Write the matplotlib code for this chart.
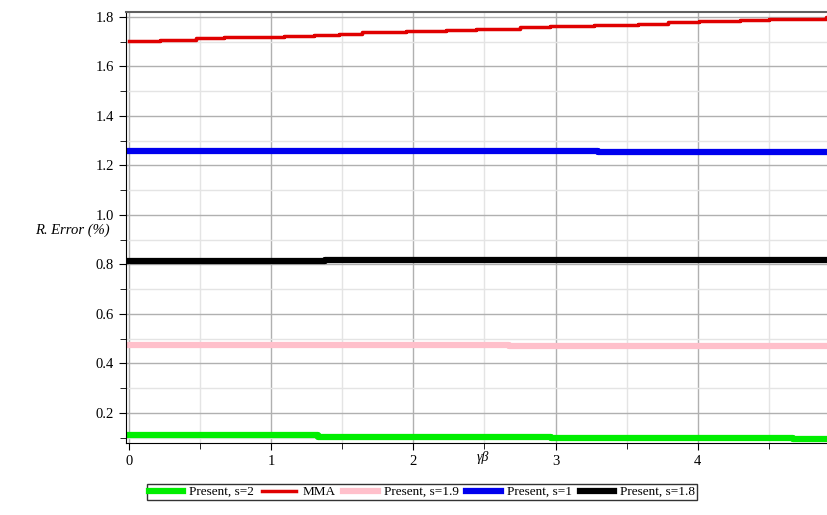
import numpy as np
import matplotlib
matplotlib.use('Agg')
import matplotlib.pyplot as plt
from matplotlib.ticker import MultipleLocator, FixedLocator

plt.rcParams['font.family'] = ['Liberation Serif', 'DejaVu Serif']

# step data (x where each level starts, level value)
mma_x = [0, 0.22, 0.47, 0.67, 1.09, 1.30, 1.48, 1.64, 1.95, 2.23, 2.44,
         2.75, 2.96, 3.27, 3.58, 3.79, 4.01, 4.30, 4.50, 4.90, 5.0]
mma_y = [1.703, 1.708, 1.713, 1.718, 1.723, 1.728, 1.733, 1.738, 1.743,
         1.748, 1.753, 1.758, 1.763, 1.768, 1.773, 1.778, 1.783, 1.788,
         1.793, 1.800, 1.800]

s2_x = [0, 1.33, 2.97, 4.67, 5.0]
s2_y = [0.110, 0.104, 0.100, 0.095, 0.095]

s19_x = [0, 2.67, 5.0]
s19_y = [0.476, 0.469, 0.469]

s1_x = [0, 3.30, 5.0]
s1_y = [1.259, 1.253, 1.253]

s18_x = [0, 1.38, 5.0]
s18_y = [0.813, 0.819, 0.819]

x_ticks = [0, 1, 2, 3, 4]
y_ticks = [0.2, 0.4, 0.6, 0.8, 1.0, 1.2, 1.4, 1.6, 1.8]

fig = plt.figure(figsize=(8.28, 5.15), dpi=100)
ax = fig.add_axes([126 / 828, 1 - 443 / 515, 714 / 828, 431 / 515])

ax.plot(s2_x, s2_y, color='#00ee00', lw=4.5, drawstyle='steps-post', label='Present, s=2')
ax.plot(mma_x, mma_y, color='#e00000', lw=2.5, drawstyle='steps-post', label='MMA')
ax.plot(s19_x, s19_y, color='#ffc0cb', lw=4.5, drawstyle='steps-post', label='Present, s=1.9')
ax.plot(s1_x, s1_y, color='#0000ee', lw=4.5, drawstyle='steps-post', label='Present, s=1')
ax.plot(s18_x, s18_y, color='black', lw=4.5, drawstyle='steps-post', label='Present, s=1.8')

ax.set_xlim(-0.02, 5.0)
ax.set_ylim(0.078, 1.82)
ax.set_xticks(x_ticks)
ax.set_xticklabels([str(v) for v in x_ticks])
ax.xaxis.set_minor_locator(FixedLocator([0.5, 1.5, 2.5, 3.5, 4.5]))
ax.set_yticks(y_ticks)
ax.set_yticklabels(['%.1f' % v for v in y_ticks])
ax.yaxis.set_minor_locator(FixedLocator([0.1, 0.3, 0.5, 0.7, 0.9, 1.1, 1.3, 1.5, 1.7]))

ax.grid(which='major', color='#b0b0b0', lw=1.0)
ax.grid(which='minor', color='#e4e4e4', lw=1.0)
ax.set_axisbelow(True)
for side in ['left', 'bottom']:
    ax.spines[side].set_color('black')
ax.spines['top'].set_color('#606060')
ax.spines['top'].set_linewidth(1.5)
ax.spines['right'].set_visible(False)
ax.tick_params(which='both', direction='out', length=5, color='black', labelsize=10.5)
ax.tick_params(which='minor', length=4)

fig.text(35 / 828, 1 - 230 / 515, 'R. Error (%)', fontsize=10.5, va='center', ha='left',
         fontstyle='italic')
fig.text(483 / 828, 1 - 457 / 515, 'γβ', fontsize=10, ha='center', va='center',
         fontstyle='italic')

leg = fig.legend(loc='center', bbox_to_anchor=(422 / 828, 1 - 492 / 515), ncol=5,
                 frameon=True, fancybox=False, edgecolor='black', fontsize=9.5,
                 handlelength=2.6, handletextpad=0.45, columnspacing=0.6,
                 borderpad=0.15, borderaxespad=0)
leg.get_frame().set_linewidth(1.0)

fig.savefig('out.png', dpi=100)
